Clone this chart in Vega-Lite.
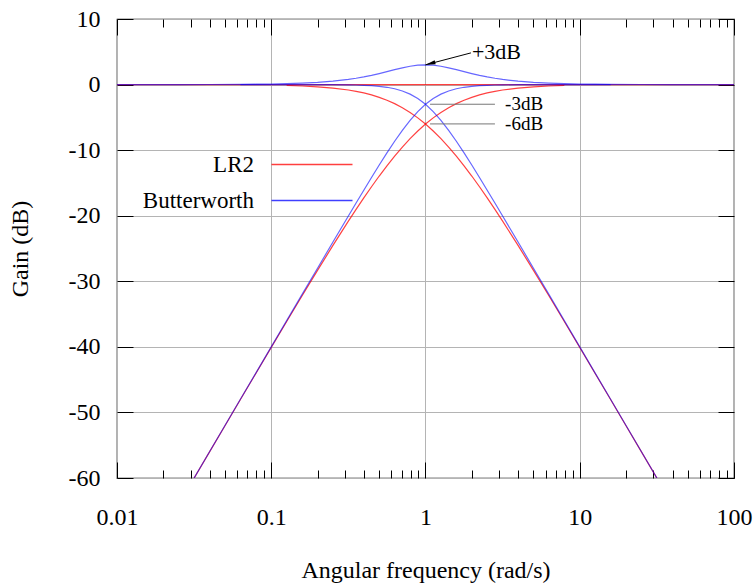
{
  "$schema": "https://vega.github.io/schema/vega-lite/v6.json",
  "width": 617,
  "height": 459,
  "autosize": {"type": "none"},
  "padding": {"left": 117, "top": 19, "right": 20, "bottom": 106},
  "background": "white",
  "config": {
    "view": {"stroke": "black", "strokeWidth": 1.2},
    "font": "Liberation Serif",
    "axis": {
      "domain": false,
      "labelFont": "Liberation Serif",
      "titleFont": "Liberation Serif",
      "labelFontSize": 24,
      "titleFontSize": 24,
      "titleFontWeight": "normal",
      "labelColor": "black",
      "titleColor": "black",
      "tickColor": "black",
      "gridColor": "#b4b4b4",
      "gridWidth": 1,
      "tickWidth": 1,
      "labelFlush": false
    }
  },
  "datasets": {
    "curves": [
      {"w": 0.01, "g": 0, "s": "LR2", "c": "sum"},
      {"w": 100, "g": 0, "s": "LR2", "c": "sum"},
      {"w": 0.125893, "g": -0.1366, "s": "LR2", "c": "lp"},
      {"w": 0.158489, "g": -0.2155, "s": "LR2", "c": "lp"},
      {"w": 0.199526, "g": -0.3391, "s": "LR2", "c": "lp"},
      {"w": 0.251189, "g": -0.5314, "s": "LR2", "c": "lp"},
      {"w": 0.316228, "g": -0.8279, "s": "LR2", "c": "lp"},
      {"w": 0.354813, "g": -1.03, "s": "LR2", "c": "lp"},
      {"w": 0.398107, "g": -1.2778, "s": "LR2", "c": "lp"},
      {"w": 0.446684, "g": -1.5802, "s": "LR2", "c": "lp"},
      {"w": 0.501187, "g": -1.9464, "s": "LR2", "c": "lp"},
      {"w": 0.562341, "g": -2.3866, "s": "LR2", "c": "lp"},
      {"w": 0.630957, "g": -2.9106, "s": "LR2", "c": "lp"},
      {"w": 0.707946, "g": -3.5286, "s": "LR2", "c": "lp"},
      {"w": 0.794328, "g": -4.2487, "s": "LR2", "c": "lp"},
      {"w": 0.891251, "g": -5.078, "s": "LR2", "c": "lp"},
      {"w": 1, "g": -6.0206, "s": "LR2", "c": "lp"},
      {"w": 1.122018, "g": -7.078, "s": "LR2", "c": "lp"},
      {"w": 1.258925, "g": -8.2487, "s": "LR2", "c": "lp"},
      {"w": 1.412538, "g": -9.5286, "s": "LR2", "c": "lp"},
      {"w": 1.584893, "g": -10.9106, "s": "LR2", "c": "lp"},
      {"w": 1.778279, "g": -12.3866, "s": "LR2", "c": "lp"},
      {"w": 1.995262, "g": -13.9464, "s": "LR2", "c": "lp"},
      {"w": 2.238721, "g": -15.5802, "s": "LR2", "c": "lp"},
      {"w": 2.511886, "g": -17.2778, "s": "LR2", "c": "lp"},
      {"w": 2.818383, "g": -19.03, "s": "LR2", "c": "lp"},
      {"w": 3.162278, "g": -20.8279, "s": "LR2", "c": "lp"},
      {"w": 3.981072, "g": -24.5314, "s": "LR2", "c": "lp"},
      {"w": 5.011872, "g": -28.3391, "s": "LR2", "c": "lp"},
      {"w": 6.309573, "g": -32.2155, "s": "LR2", "c": "lp"},
      {"w": 7.943282, "g": -36.1366, "s": "LR2", "c": "lp"},
      {"w": 10, "g": -40.0864, "s": "LR2", "c": "lp"},
      {"w": 12.589254, "g": -44.0546, "s": "LR2", "c": "lp"},
      {"w": 15.848932, "g": -48.0345, "s": "LR2", "c": "lp"},
      {"w": 19.952623, "g": -52.0218, "s": "LR2", "c": "lp"},
      {"w": 25.118864, "g": -56.0138, "s": "LR2", "c": "lp"},
      {"w": 31.622777, "g": -60.0087, "s": "LR2", "c": "lp"},
      {"w": 0.031623, "g": -60.0087, "s": "LR2", "c": "hp"},
      {"w": 0.039811, "g": -56.0138, "s": "LR2", "c": "hp"},
      {"w": 0.050119, "g": -52.0218, "s": "LR2", "c": "hp"},
      {"w": 0.063096, "g": -48.0345, "s": "LR2", "c": "hp"},
      {"w": 0.079433, "g": -44.0546, "s": "LR2", "c": "hp"},
      {"w": 0.1, "g": -40.0864, "s": "LR2", "c": "hp"},
      {"w": 0.125893, "g": -36.1366, "s": "LR2", "c": "hp"},
      {"w": 0.158489, "g": -32.2155, "s": "LR2", "c": "hp"},
      {"w": 0.199526, "g": -28.3391, "s": "LR2", "c": "hp"},
      {"w": 0.251189, "g": -24.5314, "s": "LR2", "c": "hp"},
      {"w": 0.316228, "g": -20.8279, "s": "LR2", "c": "hp"},
      {"w": 0.354813, "g": -19.03, "s": "LR2", "c": "hp"},
      {"w": 0.398107, "g": -17.2778, "s": "LR2", "c": "hp"},
      {"w": 0.446684, "g": -15.5802, "s": "LR2", "c": "hp"},
      {"w": 0.501187, "g": -13.9464, "s": "LR2", "c": "hp"},
      {"w": 0.562341, "g": -12.3866, "s": "LR2", "c": "hp"},
      {"w": 0.630957, "g": -10.9106, "s": "LR2", "c": "hp"},
      {"w": 0.707946, "g": -9.5286, "s": "LR2", "c": "hp"},
      {"w": 0.794328, "g": -8.2487, "s": "LR2", "c": "hp"},
      {"w": 0.891251, "g": -7.078, "s": "LR2", "c": "hp"},
      {"w": 1, "g": -6.0206, "s": "LR2", "c": "hp"},
      {"w": 1.122018, "g": -5.078, "s": "LR2", "c": "hp"},
      {"w": 1.258925, "g": -4.2487, "s": "LR2", "c": "hp"},
      {"w": 1.412538, "g": -3.5286, "s": "LR2", "c": "hp"},
      {"w": 1.584893, "g": -2.9106, "s": "LR2", "c": "hp"},
      {"w": 1.778279, "g": -2.3866, "s": "LR2", "c": "hp"},
      {"w": 1.995262, "g": -1.9464, "s": "LR2", "c": "hp"},
      {"w": 2.238721, "g": -1.5802, "s": "LR2", "c": "hp"},
      {"w": 2.511886, "g": -1.2778, "s": "LR2", "c": "hp"},
      {"w": 2.818383, "g": -1.03, "s": "LR2", "c": "hp"},
      {"w": 3.162278, "g": -0.8279, "s": "LR2", "c": "hp"},
      {"w": 3.981072, "g": -0.5314, "s": "LR2", "c": "hp"},
      {"w": 5.011872, "g": -0.3391, "s": "LR2", "c": "hp"},
      {"w": 6.309573, "g": -0.2155, "s": "LR2", "c": "hp"},
      {"w": 7.943282, "g": -0.1366, "s": "LR2", "c": "hp"},
      {"w": 0.063096, "g": -0.0001, "s": "Butterworth", "c": "lp"},
      {"w": 0.079433, "g": -0.0002, "s": "Butterworth", "c": "lp"},
      {"w": 0.1, "g": -0.0004, "s": "Butterworth", "c": "lp"},
      {"w": 0.125893, "g": -0.0011, "s": "Butterworth", "c": "lp"},
      {"w": 0.158489, "g": -0.0027, "s": "Butterworth", "c": "lp"},
      {"w": 0.199526, "g": -0.0069, "s": "Butterworth", "c": "lp"},
      {"w": 0.251189, "g": -0.0173, "s": "Butterworth", "c": "lp"},
      {"w": 0.316228, "g": -0.0432, "s": "Butterworth", "c": "lp"},
      {"w": 0.354813, "g": -0.0683, "s": "Butterworth", "c": "lp"},
      {"w": 0.398107, "g": -0.1077, "s": "Butterworth", "c": "lp"},
      {"w": 0.446684, "g": -0.1695, "s": "Butterworth", "c": "lp"},
      {"w": 0.501187, "g": -0.2657, "s": "Butterworth", "c": "lp"},
      {"w": 0.562341, "g": -0.4139, "s": "Butterworth", "c": "lp"},
      {"w": 0.630957, "g": -0.6389, "s": "Butterworth", "c": "lp"},
      {"w": 0.707946, "g": -0.9732, "s": "Butterworth", "c": "lp"},
      {"w": 0.794328, "g": -1.4553, "s": "Butterworth", "c": "lp"},
      {"w": 0.891251, "g": -2.1244, "s": "Butterworth", "c": "lp"},
      {"w": 1, "g": -3.0103, "s": "Butterworth", "c": "lp"},
      {"w": 1.122018, "g": -4.1244, "s": "Butterworth", "c": "lp"},
      {"w": 1.258925, "g": -5.4553, "s": "Butterworth", "c": "lp"},
      {"w": 1.412538, "g": -6.9732, "s": "Butterworth", "c": "lp"},
      {"w": 1.584893, "g": -8.6389, "s": "Butterworth", "c": "lp"},
      {"w": 1.778279, "g": -10.4139, "s": "Butterworth", "c": "lp"},
      {"w": 1.995262, "g": -12.2657, "s": "Butterworth", "c": "lp"},
      {"w": 2.238721, "g": -14.1695, "s": "Butterworth", "c": "lp"},
      {"w": 2.511886, "g": -16.1077, "s": "Butterworth", "c": "lp"},
      {"w": 2.818383, "g": -18.0683, "s": "Butterworth", "c": "lp"},
      {"w": 3.162278, "g": -20.0432, "s": "Butterworth", "c": "lp"},
      {"w": 3.981072, "g": -24.0173, "s": "Butterworth", "c": "lp"},
      {"w": 5.011872, "g": -28.0069, "s": "Butterworth", "c": "lp"},
      {"w": 6.309573, "g": -32.0027, "s": "Butterworth", "c": "lp"},
      {"w": 7.943282, "g": -36.0011, "s": "Butterworth", "c": "lp"},
      {"w": 10, "g": -40.0004, "s": "Butterworth", "c": "lp"},
      {"w": 12.589254, "g": -44.0002, "s": "Butterworth", "c": "lp"},
      {"w": 15.848932, "g": -48.0001, "s": "Butterworth", "c": "lp"},
      {"w": 19.952623, "g": -52, "s": "Butterworth", "c": "lp"},
      {"w": 25.118864, "g": -56, "s": "Butterworth", "c": "lp"},
      {"w": 31.622777, "g": -60, "s": "Butterworth", "c": "lp"},
      {"w": 0.031623, "g": -60, "s": "Butterworth", "c": "hp"},
      {"w": 0.039811, "g": -56, "s": "Butterworth", "c": "hp"},
      {"w": 0.050119, "g": -52, "s": "Butterworth", "c": "hp"},
      {"w": 0.063096, "g": -48.0001, "s": "Butterworth", "c": "hp"},
      {"w": 0.079433, "g": -44.0002, "s": "Butterworth", "c": "hp"},
      {"w": 0.1, "g": -40.0004, "s": "Butterworth", "c": "hp"},
      {"w": 0.125893, "g": -36.0011, "s": "Butterworth", "c": "hp"},
      {"w": 0.158489, "g": -32.0027, "s": "Butterworth", "c": "hp"},
      {"w": 0.199526, "g": -28.0069, "s": "Butterworth", "c": "hp"},
      {"w": 0.251189, "g": -24.0173, "s": "Butterworth", "c": "hp"},
      {"w": 0.316228, "g": -20.0432, "s": "Butterworth", "c": "hp"},
      {"w": 0.354813, "g": -18.0683, "s": "Butterworth", "c": "hp"},
      {"w": 0.398107, "g": -16.1077, "s": "Butterworth", "c": "hp"},
      {"w": 0.446684, "g": -14.1695, "s": "Butterworth", "c": "hp"},
      {"w": 0.501187, "g": -12.2657, "s": "Butterworth", "c": "hp"},
      {"w": 0.562341, "g": -10.4139, "s": "Butterworth", "c": "hp"},
      {"w": 0.630957, "g": -8.6389, "s": "Butterworth", "c": "hp"},
      {"w": 0.707946, "g": -6.9732, "s": "Butterworth", "c": "hp"},
      {"w": 0.794328, "g": -5.4553, "s": "Butterworth", "c": "hp"},
      {"w": 0.891251, "g": -4.1244, "s": "Butterworth", "c": "hp"},
      {"w": 1, "g": -3.0103, "s": "Butterworth", "c": "hp"},
      {"w": 1.122018, "g": -2.1244, "s": "Butterworth", "c": "hp"},
      {"w": 1.258925, "g": -1.4553, "s": "Butterworth", "c": "hp"},
      {"w": 1.412538, "g": -0.9732, "s": "Butterworth", "c": "hp"},
      {"w": 1.584893, "g": -0.6389, "s": "Butterworth", "c": "hp"},
      {"w": 1.778279, "g": -0.4139, "s": "Butterworth", "c": "hp"},
      {"w": 1.995262, "g": -0.2657, "s": "Butterworth", "c": "hp"},
      {"w": 2.238721, "g": -0.1695, "s": "Butterworth", "c": "hp"},
      {"w": 2.511886, "g": -0.1077, "s": "Butterworth", "c": "hp"},
      {"w": 2.818383, "g": -0.0683, "s": "Butterworth", "c": "hp"},
      {"w": 3.162278, "g": -0.0432, "s": "Butterworth", "c": "hp"},
      {"w": 3.981072, "g": -0.0173, "s": "Butterworth", "c": "hp"},
      {"w": 5.011872, "g": -0.0069, "s": "Butterworth", "c": "hp"},
      {"w": 6.309573, "g": -0.0027, "s": "Butterworth", "c": "hp"},
      {"w": 7.943282, "g": -0.0011, "s": "Butterworth", "c": "hp"},
      {"w": 10, "g": -0.0004, "s": "Butterworth", "c": "hp"},
      {"w": 12.589254, "g": -0.0002, "s": "Butterworth", "c": "hp"},
      {"w": 15.848932, "g": -0.0001, "s": "Butterworth", "c": "hp"},
      {"w": 0.01, "g": 0.0009, "s": "Butterworth", "c": "sum"},
      {"w": 0.025119, "g": 0.0055, "s": "Butterworth", "c": "sum"},
      {"w": 0.039811, "g": 0.0138, "s": "Butterworth", "c": "sum"},
      {"w": 0.063096, "g": 0.0345, "s": "Butterworth", "c": "sum"},
      {"w": 0.079433, "g": 0.0544, "s": "Butterworth", "c": "sum"},
      {"w": 0.1, "g": 0.086, "s": "Butterworth", "c": "sum"},
      {"w": 0.125893, "g": 0.1355, "s": "Butterworth", "c": "sum"},
      {"w": 0.158489, "g": 0.2128, "s": "Butterworth", "c": "sum"},
      {"w": 0.199526, "g": 0.3322, "s": "Butterworth", "c": "sum"},
      {"w": 0.251189, "g": 0.5141, "s": "Butterworth", "c": "sum"},
      {"w": 0.316228, "g": 0.7847, "s": "Butterworth", "c": "sum"},
      {"w": 0.354813, "g": 0.9617, "s": "Butterworth", "c": "sum"},
      {"w": 0.398107, "g": 1.1701, "s": "Butterworth", "c": "sum"},
      {"w": 0.446684, "g": 1.4107, "s": "Butterworth", "c": "sum"},
      {"w": 0.501187, "g": 1.6807, "s": "Butterworth", "c": "sum"},
      {"w": 0.562341, "g": 1.9727, "s": "Butterworth", "c": "sum"},
      {"w": 0.630957, "g": 2.2717, "s": "Butterworth", "c": "sum"},
      {"w": 0.707946, "g": 2.5554, "s": "Butterworth", "c": "sum"},
      {"w": 0.794328, "g": 2.7935, "s": "Butterworth", "c": "sum"},
      {"w": 0.891251, "g": 2.9536, "s": "Butterworth", "c": "sum"},
      {"w": 1, "g": 3.0103, "s": "Butterworth", "c": "sum"},
      {"w": 1.122018, "g": 2.9536, "s": "Butterworth", "c": "sum"},
      {"w": 1.258925, "g": 2.7935, "s": "Butterworth", "c": "sum"},
      {"w": 1.412538, "g": 2.5554, "s": "Butterworth", "c": "sum"},
      {"w": 1.584893, "g": 2.2717, "s": "Butterworth", "c": "sum"},
      {"w": 1.778279, "g": 1.9727, "s": "Butterworth", "c": "sum"},
      {"w": 1.995262, "g": 1.6807, "s": "Butterworth", "c": "sum"},
      {"w": 2.238721, "g": 1.4107, "s": "Butterworth", "c": "sum"},
      {"w": 2.511886, "g": 1.1701, "s": "Butterworth", "c": "sum"},
      {"w": 2.818383, "g": 0.9617, "s": "Butterworth", "c": "sum"},
      {"w": 3.162278, "g": 0.7847, "s": "Butterworth", "c": "sum"},
      {"w": 3.981072, "g": 0.5141, "s": "Butterworth", "c": "sum"},
      {"w": 5.011872, "g": 0.3322, "s": "Butterworth", "c": "sum"},
      {"w": 6.309573, "g": 0.2128, "s": "Butterworth", "c": "sum"},
      {"w": 7.943282, "g": 0.1355, "s": "Butterworth", "c": "sum"},
      {"w": 10, "g": 0.086, "s": "Butterworth", "c": "sum"},
      {"w": 12.589254, "g": 0.0544, "s": "Butterworth", "c": "sum"},
      {"w": 15.848932, "g": 0.0345, "s": "Butterworth", "c": "sum"},
      {"w": 25.118864, "g": 0.0138, "s": "Butterworth", "c": "sum"},
      {"w": 39.810717, "g": 0.0055, "s": "Butterworth", "c": "sum"},
      {"w": 100, "g": 0.0009, "s": "Butterworth", "c": "sum"}
    ]
  },
  "layer": [
    {
      "data": {"name": "curves"},
      "transform": [{"filter": "datum.s === 'LR2'"}],
      "mark": {"type": "line", "strokeWidth": 1.2, "opacity": 0.75, "clip": true},
      "encoding": {
        "x": {
          "field": "w", "type": "quantitative",
          "scale": {"type": "log", "domain": [0.01, 100], "nice": false},
          "axis": {
            "orient": "bottom", "values": [0.01, 0.1, 1, 10, 100], "format": "~g",
            "ticks": false, "grid": true, "labelPadding": 27,
            "title": "Angular frequency (rad/s)", "titlePadding": 29
          }
        },
        "y": {
          "field": "g", "type": "quantitative",
          "scale": {"domain": [-60, 10], "nice": false, "zero": false},
          "axis": {
            "orient": "left", "values": [-60, -50, -40, -30, -20, -10, 0, 10],
            "labelExpr": "'' + datum.value",
            "ticks": false, "grid": true, "labelPadding": 17,
            "title": "Gain (dB)", "titlePadding": 36
          }
        },
        "color": {
          "field": "s", "type": "nominal",
          "scale": {"domain": ["LR2", "Butterworth"], "range": ["#ff0000", "#0000ff"]},
          "legend": {
            "orient": "none", "legendX": 10, "legendY": 134, "title": null,
            "symbolType": "M-8.1,0H8.1", "symbolSize": 100, "symbolStrokeWidth": 1.5,
            "labelAlign": "right", "labelOffset": -69.5, "symbolOffset": 173.5,
            "labelFont": "Liberation Serif", "labelFontSize": 23, "labelColor": "black",
            "labelLimit": 300, "rowPadding": 12, "padding": 0
          }
        },
        "detail": {"field": "c", "type": "nominal"}
      }
    },
    {
      "data": {"name": "curves"},
      "transform": [{"filter": "datum.s === 'Butterworth'"}],
      "mark": {"type": "line", "strokeWidth": 1.2, "opacity": 0.6, "clip": true},
      "encoding": {
        "x": {"field": "w", "type": "quantitative", "scale": {"type": "log", "domain": [0.01, 100], "nice": false}, "axis": null},
        "y": {"field": "g", "type": "quantitative", "scale": {"domain": [-60, 10], "nice": false, "zero": false}, "axis": null},
        "color": {"field": "s", "type": "nominal", "scale": {"domain": ["LR2", "Butterworth"], "range": ["#ff0000", "#0000ff"]}},
        "detail": {"field": "c", "type": "nominal"}
      }
    },
    {
      "data": {"values": [
        {"w1": 1.07, "w2": 2.82, "g": -3},
        {"w1": 1.07, "w2": 2.82, "g": -6}
      ]},
      "mark": {"type": "rule", "color": "#777777", "strokeWidth": 1},
      "encoding": {
        "x": {
          "field": "w1", "type": "quantitative",
          "scale": {"type": "log", "domain": [0.01, 100], "nice": false},
          "axis": {
            "orient": "bottom", "labels": false, "grid": false, "title": null,
            "values": [0.01, 0.02, 0.03, 0.04, 0.05, 0.06, 0.07, 0.08, 0.09, 0.1, 0.2, 0.3, 0.4, 0.5, 0.6, 0.7, 0.8, 0.9, 1, 2, 3, 4, 5, 6, 7, 8, 9, 10, 20, 30, 40, 50, 60, 70, 80, 90, 100],
            "tickSize": {"condition": {"test": "datum.value === 0.01 || datum.value === 0.1 || datum.value === 1 || datum.value === 10 || datum.value === 100", "value": -16}, "value": -8}
          }
        },
        "x2": {"field": "w2"},
        "y": {
          "field": "g", "type": "quantitative",
          "scale": {"domain": [-60, 10], "nice": false, "zero": false},
          "axis": {
            "orient": "left", "labels": false, "grid": false, "title": null,
            "values": [-60, -50, -40, -30, -20, -10, 0, 10], "tickSize": -16
          }
        }
      }
    },
    {
      "data": {"values": [
        {"w": 1.97, "g": 4.83},
        {"w": 1.0, "g": 3.01}
      ]},
      "mark": {"type": "line", "color": "black", "strokeWidth": 1},
      "encoding": {
        "x": {
          "field": "w", "type": "quantitative",
          "scale": {"type": "log", "domain": [0.01, 100], "nice": false},
          "axis": {
            "orient": "top", "labels": false, "grid": false, "title": null,
            "values": [0.01, 0.02, 0.03, 0.04, 0.05, 0.06, 0.07, 0.08, 0.09, 0.1, 0.2, 0.3, 0.4, 0.5, 0.6, 0.7, 0.8, 0.9, 1, 2, 3, 4, 5, 6, 7, 8, 9, 10, 20, 30, 40, 50, 60, 70, 80, 90, 100],
            "tickSize": {"condition": {"test": "datum.value === 0.01 || datum.value === 0.1 || datum.value === 1 || datum.value === 10 || datum.value === 100", "value": -16}, "value": -8}
          }
        },
        "y": {
          "field": "g", "type": "quantitative",
          "scale": {"domain": [-60, 10], "nice": false, "zero": false},
          "axis": {
            "orient": "right", "labels": false, "grid": false, "title": null,
            "values": [-60, -50, -40, -30, -20, -10, 0, 10], "tickSize": -16
          }
        }
      }
    },
    {
      "data": {"values": [{"w": 1.075, "g": 3.204}]},
      "mark": {"type": "point", "shape": "M0,-1L0.4,1L-0.4,1Z", "filled": true, "color": "black", "opacity": 1, "size": 100, "angle": 255.3},
      "encoding": {
        "x": {"field": "w", "type": "quantitative", "scale": {"type": "log", "domain": [0.01, 100], "nice": false}, "axis": null},
        "y": {"field": "g", "type": "quantitative", "scale": {"domain": [-60, 10], "nice": false, "zero": false}, "axis": null}
      }
    },
    {
      "data": {"values": [{"w": 2.0, "g": 4.98, "t": "+3dB"}]},
      "mark": {"type": "text", "align": "left", "baseline": "middle", "font": "Liberation Serif", "fontSize": 22, "color": "black"},
      "encoding": {
        "x": {"field": "w", "type": "quantitative", "scale": {"type": "log", "domain": [0.01, 100], "nice": false}, "axis": null},
        "y": {"field": "g", "type": "quantitative", "scale": {"domain": [-60, 10], "nice": false, "zero": false}, "axis": null},
        "text": {"field": "t"}
      }
    },
    {
      "data": {"values": [
        {"w": 3.28, "g": -3, "t": "-3dB"},
        {"w": 3.28, "g": -6, "t": "-6dB"}
      ]},
      "mark": {"type": "text", "align": "left", "baseline": "middle", "font": "Liberation Serif", "fontSize": 19, "color": "black"},
      "encoding": {
        "x": {"field": "w", "type": "quantitative", "scale": {"type": "log", "domain": [0.01, 100], "nice": false}, "axis": null},
        "y": {"field": "g", "type": "quantitative", "scale": {"domain": [-60, 10], "nice": false, "zero": false}, "axis": null},
        "text": {"field": "t"}
      }
    }
  ],
  "resolve": {"axis": {"x": "independent", "y": "independent"}}
}
